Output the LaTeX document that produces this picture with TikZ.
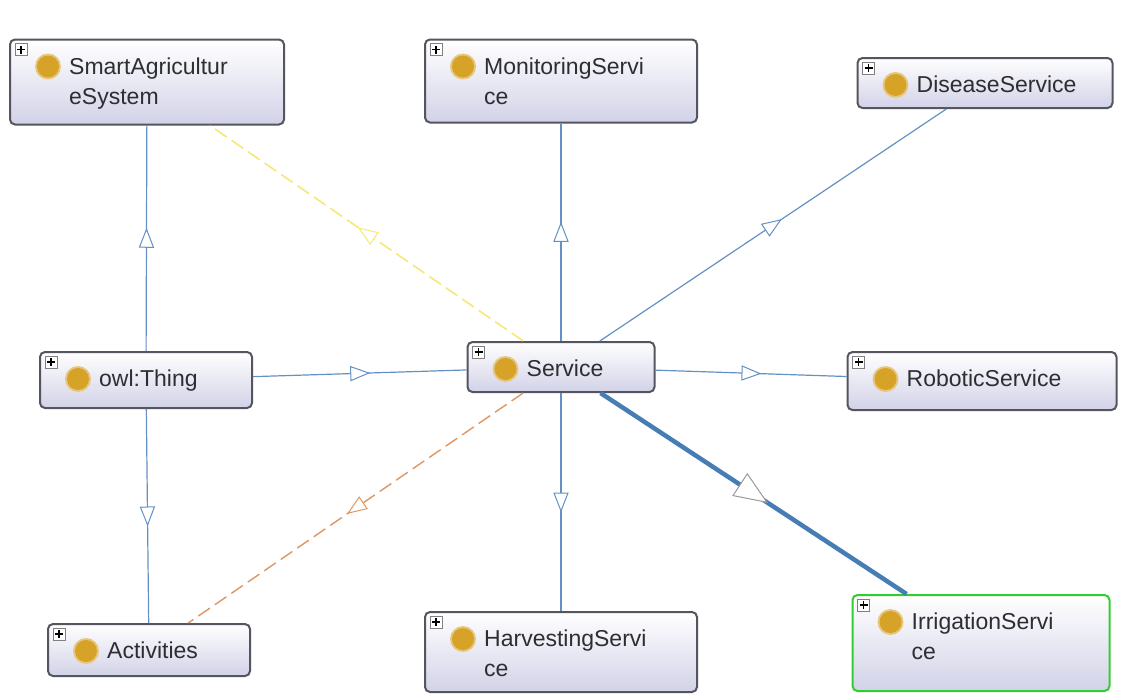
\documentclass[tikz,border=0pt]{standalone}
\usepackage{fontspec}
\setmainfont{Liberation Sans}
\usetikzlibrary{decorations.markings}

\definecolor{edgeblue}{RGB}{100,145,195}
\definecolor{thickblue}{RGB}{70,125,180}
\definecolor{boxline}{RGB}{85,85,95}
\definecolor{boxfill}{RGB}{210,210,232}
\definecolor{dotgold}{RGB}{214,162,40}
\definecolor{dashyellow}{RGB}{246,232,120}
\definecolor{dashorange}{RGB}{224,150,100}
\definecolor{selgreen}{RGB}{50,205,50}
\definecolor{textgray}{RGB}{45,45,50}

\begin{document}
\begin{tikzpicture}[x=1pt, y=-1pt,
  cls/.style={rectangle, rounded corners=5pt, draw=boxline, line width=2pt,
    top color=white, bottom color=boxfill,
    path picture={
      \draw[line width=0.8pt, draw=gray, fill=white, sharp corners]
        ([shift={(5pt,-4pt)}]path picture bounding box.north west) rectangle +(12pt,-12pt);
      \draw[line width=1.4pt, black]
        ([shift={(11pt,-6pt)}]path picture bounding box.north west) -- +(0pt,-8pt)
        ([shift={(7pt,-10pt)}]path picture bounding box.north west) -- +(8pt,0pt);
      \fill[dotgold!60] ([shift={(38pt,-27pt)}]path picture bounding box.north west) circle (13pt);
      \fill[dotgold] ([shift={(38pt,-27pt)}]path picture bounding box.north west) circle (11pt);
    }},
  clstext/.style={anchor=north west, align=left, inner sep=0pt, text=textgray,
    font=\fontsize{23}{30}\selectfont},
  isatip/.style n args={3}{postaction={decorate, decoration={markings,
    mark=at position 0.5 with {\draw[solid, fill=white, draw=#1, line width=1pt]
      (#2,0pt) -- (-#2,-#3) -- (-#2,#3) -- cycle;}}}},
  isa/.style={draw=edgeblue, line width=1.2pt, isatip={edgeblue}{9pt}{7pt}},
  bigisa/.style={draw=thickblue, line width=4.5pt, isatip={gray!80}{16pt}{13pt}},
  seeyellow/.style={draw=dashyellow, line width=1.6pt, dash pattern=on 14pt off 6pt,
    isatip={dashyellow}{9pt}{7pt}},
  seeorange/.style={draw=dashorange, line width=1.4pt, dash pattern=on 14pt off 6pt,
    isatip={dashorange}{9pt}{7pt}}]

  \useasboundingbox[fill=white] (0,0) rectangle (1125,696);

  % class boxes
  \node[cls, minimum width=274pt, minimum height=85pt] (smart) at (147,82) {};
  \node[cls, minimum width=272pt, minimum height=83pt] (monit) at (561,81) {};
  \node[cls, minimum width=255pt, minimum height=50pt] (disease) at (985,83) {};
  \node[cls, minimum width=212pt, minimum height=56pt] (thing) at (146,380) {};
  \node[cls, minimum width=187pt, minimum height=50pt] (service) at (561,367) {};
  \node[cls, minimum width=269pt, minimum height=58pt] (robotic) at (982,381) {};
  \node[cls, minimum width=202pt, minimum height=52pt] (activ) at (149,650) {};
  \node[cls, minimum width=272pt, minimum height=80pt] (harv) at (561,652) {};
  \node[cls, draw=selgreen, minimum width=257pt, minimum height=96pt] (irrig) at (981,643) {};

  % labels
  \node[clstext] (smarttxt) at ([shift={(60pt,-19pt)}]smart.north west) {SmartAgricultur\\eSystem};
  \node[clstext] (monittxt) at ([shift={(60pt,-19pt)}]monit.north west) {MonitoringServi\\ce};
  \node[clstext] (diseasetxt) at ([shift={(60pt,-19pt)}]disease.north west) {DiseaseService};
  \node[clstext] (thingtxt) at ([shift={(60pt,-19pt)}]thing.north west) {owl:Thing};
  \node[clstext] (servicetxt) at ([shift={(60pt,-19pt)}]service.north west) {Service};
  \node[clstext] (robotictxt) at ([shift={(60pt,-19pt)}]robotic.north west) {RoboticService};
  \node[clstext] (activtxt) at ([shift={(60pt,-19pt)}]activ.north west) {Activities};
  \node[clstext] (harvtxt) at ([shift={(60pt,-19pt)}]harv.north west) {HarvestingServi\\ce};
  \node[clstext] (irrigtxt) at ([shift={(60pt,-19pt)}]irrig.north west) {IrrigationServi\\ce};

  % subclass edges
  \draw[isa] (thing) -- (smart);
  \draw[isa] (thing) -- (activ);
  \draw[isa] (thing) -- (service);
  \draw[isa] (service) -- (monit);
  \draw[isa] (service) -- (disease);
  \draw[isa] (service) -- (robotic);
  \draw[isa] (service) -- (harv);
  \draw[bigisa] (service) -- (irrig);

  % other relations
  \draw[seeyellow] (service) -- (smart);
  \draw[seeorange] (service) -- (activ);

\end{tikzpicture}
\end{document}
